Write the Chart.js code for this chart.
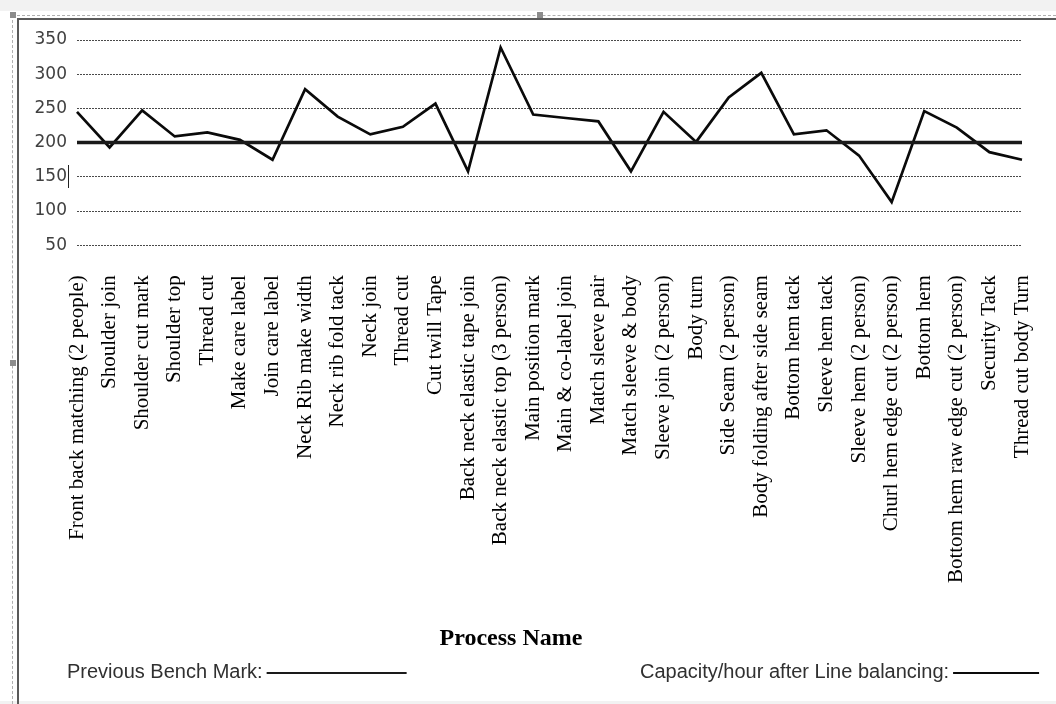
<!DOCTYPE html>
<html>
<head>
<meta charset="utf-8">
<title>Process capacity per hour</title>
<script src="https://cdn.jsdelivr.net/npm/chart.js@4.4.1/dist/chart.umd.min.js"></script>
<style>
  html, body { margin: 0; padding: 0; background: #ffffff; }
  body { width: 1056px; height: 704px; position: relative; overflow: hidden; }
  #topband { position: absolute; left: 0; top: 0; width: 1056px; height: 11px; background: #f2f2f2; }
  #bottomband { position: absolute; left: 0; top: 701px; width: 1056px; height: 3px; background: #f2f2f2; }
  #selTop { position: absolute; left: 12px; top: 15px; width: 1044px; height: 0; border-top: 1px dashed #b0b0b0; }
  #selLeft { position: absolute; left: 12px; top: 15px; width: 0; height: 689px; border-left: 1px dashed #b0b0b0; }
  #frameTop { position: absolute; left: 17px; top: 18px; width: 1039px; height: 2px; background: #5a5a5a; }
  #frameLeft { position: absolute; left: 17px; top: 18px; width: 2px; height: 686px; background: #5a5a5a; }
  .handle { position: absolute; width: 6px; height: 6px; background: #8c8c8c; }
  #caret { position: absolute; left: 68px; top: 165px; width: 1px; height: 23px; background: #222; }
  #chart { position: absolute; left: 0; top: 0; }
</style>
</head>
<body>
<div id="topband"></div>
<div id="bottomband"></div>
<div id="selTop"></div>
<div id="selLeft"></div>
<div id="frameTop"></div>
<div id="frameLeft"></div>
<div class="handle" style="left:10px;top:12px;"></div>
<div class="handle" style="left:537px;top:12px;"></div>
<div class="handle" style="left:10px;top:360px;"></div>
<canvas id="chart" width="1056" height="704"></canvas>
<div id="caret"></div>
<script>
// Sewing line operations, in line order
const processNames = [
  "Front back matching (2 people)",
  "Shoulder join",
  "Shoulder cut mark",
  "Shoulder top",
  "Thread cut",
  "Make care label",
  "Join care label",
  "Neck Rib make width",
  "Neck rib fold tack",
  "Neck join",
  "Thread cut",
  "Cut twill Tape",
  "Back neck elastic tape join",
  "Back neck elastic top (3 person)",
  "Main position mark",
  "Main & co-label join",
  "Match sleeve pair",
  "Match sleeve & body",
  "Sleeve join (2 person)",
  "Body turn",
  "Side Seam (2 person)",
  "Body folding after side seam",
  "Bottom hem tack",
  "Sleeve hem tack",
  "Sleeve hem (2 person)",
  "Churl hem edge cut (2 person)",
  "Bottom hem",
  "Bottom hem raw edge cut (2 person)",
  "Security Tack",
  "Thread cut body Turn"
];

// Pieces per hour for each operation after line balancing
const capacityAfterBalancing = [
  245, 193, 247, 209, 215, 204, 175, 278, 238, 212,
  223, 257, 158, 339, 241, 236, 231, 158, 245, 201,
  266, 302, 212, 218, 181, 113, 246, 222, 186, 175
];

// Previous bench mark (pieces per hour)
const previousBenchMark = [
  200, 200, 200, 200, 200, 200, 200, 200, 200, 200,
  200, 200, 200, 200, 200, 200, 200, 200, 200, 200,
  200, 200, 200, 200, 200, 200, 200, 200, 200, 200
];

// Value axis ticks
const yTickMin = 50;
const yTickMax = 350;
const yTickStep = 50;

const seriesNames = ["Previous Bench Mark", "Capacity/hour after Line balancing"];

// Key drawn beneath the chart: label text followed by a sample of the line
const lineKey = {
  id: 'lineKey',
  afterDraw(chart, args, opts) {
    const ctx = chart.ctx;
    opts.items.forEach(it => {
      const ds = chart.data.datasets[it.dataset];
      const text = ds.label + ':';
      ctx.save();
      ctx.font = opts.font;
      ctx.fillStyle = opts.color;
      ctx.textBaseline = 'middle';
      ctx.textAlign = 'left';
      ctx.fillText(text, it.x, opts.y);
      const w = ctx.measureText(text).width;
      ctx.strokeStyle = ds.borderColor;
      ctx.lineWidth = opts.lineWidth;
      ctx.beginPath();
      ctx.moveTo(it.x + w + opts.gap, opts.y + 1);
      ctx.lineTo(it.x + w + opts.gap + it.length, opts.y + 1);
      ctx.stroke();
      ctx.restore();
    });
  }
};

new Chart(document.getElementById('chart'), {
  type: 'line',
  data: {
    labels: processNames,
    datasets: [
      {
        label: seriesNames[0],
        data: previousBenchMark,
        borderColor: '#1a1a1a',
        borderWidth: 3.5,
        pointRadius: 0,
        tension: 0,
        fill: false
      },
      {
        label: seriesNames[1],
        data: capacityAfterBalancing,
        borderColor: '#0a0a0a',
        borderWidth: 2.7,
        pointRadius: 0,
        tension: 0,
        fill: false
      }
    ]
  },
  options: {
    responsive: false,
    animation: false,
    devicePixelRatio: 1,
    layout: { padding: { left: 0, right: 34, top: 40, bottom: 48 } },
    plugins: {
      legend: { display: false },
      tooltip: { enabled: false },
      title: {
        display: true,
        position: 'bottom',
        text: 'Process Name',
        color: '#000000',
        font: { family: '"Liberation Serif", "Times New Roman", serif', size: 24, weight: 'bold' },
        padding: { top: 4, bottom: 3 }
      },
      lineKey: {
        y: 672,
        font: '20px "Liberation Sans", Arial, sans-serif',
        color: '#303030',
        lineWidth: 2,
        gap: 4,
        items: [
          { dataset: 0, x: 67, length: 140 },
          { dataset: 1, x: 640, length: 86 }
        ]
      }
    },
    scales: {
      x: {
        type: 'category',
        offset: false,
        border: { display: false },
        grid: { display: false, drawTicks: false },
        ticks: {
          autoSkip: false,
          maxRotation: 90,
          minRotation: 90,
          padding: 30,
          color: '#000000',
          font: { family: '"Liberation Serif", "Times New Roman", serif', size: 21 }
        },
        afterFit(scale) {
          scale.height = 375;
          scale.paddingLeft = 0;
          scale.paddingRight = 0;
        }
      },
      y: {
        min: yTickMin,
        max: yTickMax,
        border: { display: false, dash: [2, 1] },
        grid: {
          drawTicks: false,
          color: '#4a4a4a',
          lineWidth: 1
        },
        ticks: {
          stepSize: yTickStep,
          padding: 10,
          color: '#404040',
          font: { family: '"DejaVu Sans", Verdana, sans-serif', size: 17 }
        },
        afterFit(scale) { scale.width = 77; }
      }
    }
  },
  plugins: [lineKey]
});
</script>
</body>
</html>
